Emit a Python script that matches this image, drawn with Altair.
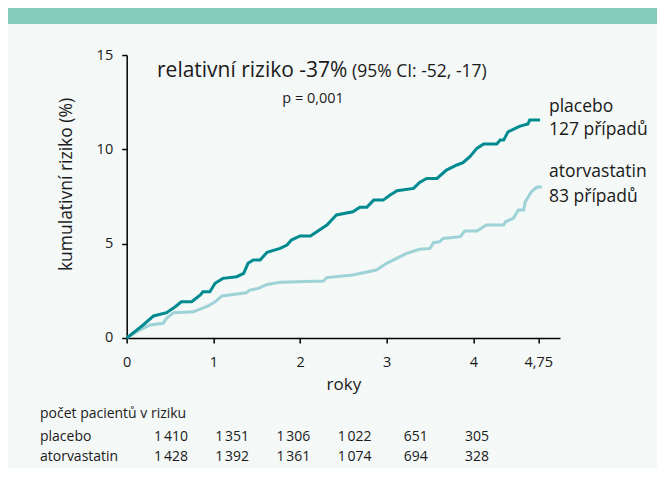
import altair as alt
import pandas as pd

# ---- data ----
placebo_t = [0, 0.115, 0.19, 0.31, 0.46, 0.56, 0.63, 0.75, 0.85, 0.88, 0.96, 1.02, 1.11, 1.27, 1.35,
             1.40, 1.46, 1.54, 1.62, 1.77, 1.85, 1.90, 2.0, 2.12, 2.31, 2.42, 2.61, 2.69, 2.77, 2.85,
             2.96, 3.04, 3.12, 3.31, 3.38, 3.46, 3.58, 3.69, 3.81, 3.88, 3.96, 4.04, 4.08, 4.12, 4.27,
             4.31, 4.35, 4.40, 4.46, 4.54, 4.63, 4.65, 4.77]
placebo_v = [0, 0.42, 0.69, 1.17, 1.34, 1.66, 1.92, 1.92, 2.28, 2.45, 2.45, 2.9, 3.16, 3.25, 3.43,
             3.96, 4.13, 4.13, 4.54, 4.75, 4.93, 5.19, 5.41, 5.41, 5.99, 6.52, 6.69, 6.93, 6.93, 7.31,
             7.31, 7.58, 7.81, 7.93, 8.25, 8.46, 8.46, 8.9, 9.17, 9.29, 9.61, 10.05, 10.17, 10.28, 10.28,
             10.49, 10.49, 10.93, 11.06, 11.23, 11.34, 11.55, 11.55]

atorva_t = [0, 0.15, 0.27, 0.42, 0.46, 0.54, 0.77, 0.94, 1.02, 1.10, 1.38, 1.42, 1.52, 1.62, 1.77,
            2.27, 2.31, 2.61, 2.88, 3.0, 3.23, 3.38, 3.50, 3.54, 3.61, 3.65, 3.85, 3.90, 4.04, 4.15,
            4.35, 4.37, 4.46, 4.52, 4.58, 4.60, 4.67, 4.73, 4.79]
atorva_v = [0, 0.42, 0.69, 0.78, 1.04, 1.34, 1.39, 1.7, 1.92, 2.23, 2.4, 2.54, 2.63, 2.84, 2.95,
            3.02, 3.2, 3.34, 3.6, 3.96, 4.49, 4.7, 4.75, 5.05, 5.1, 5.28, 5.37, 5.67, 5.67, 5.99,
            5.99, 6.16, 6.34, 6.78, 6.78, 7.22, 7.75, 7.99, 8.02]

x_ticks = [0, 1, 2, 3, 4, 4.75]
y_ticks = [0, 5, 10, 15]

table_rows = ["placebo", "atorvastatin"]
placebo_risk = ["1\u202f410", "1\u202f351", "1\u202f306", "1\u202f022", "651", "305"]
atorva_risk = ["1\u202f428", "1\u202f392", "1\u202f361", "1\u202f074", "694", "328"]

FONT = "Open Sans"
DARK = "#008B91"
LIGHT = "#9DD2D7"
TXT = "#1a1a1a"

W, H = 433.33, 283

df_p = pd.DataFrame({"t": placebo_t, "v": placebo_v})
df_a = pd.DataFrame({"t": atorva_t, "v": atorva_v})

xs = alt.Scale(domain=[0, 5], nice=False, zero=False)
ys = alt.Scale(domain=[0, 15], nice=False)

x_axis = alt.Axis(values=x_ticks, title="roky", grid=False, domainColor="black", domainWidth=1.5,
                  tickColor="black", tickWidth=1.5, tickSize=5, labelFontSize=14.5, labelFont=FONT,
                  labelColor=TXT, labelPadding=13,
                  labelExpr="replace(toString(datum.value), '.', ',')",
                  titleFont=FONT, titleFontSize=17, titleFontWeight="normal", titleColor=TXT,
                  titleY=38.5, titleBaseline="top", labelFlush=False)
y_axis = alt.Axis(values=y_ticks, title="kumulativní riziko (%)", grid=False, domainColor="black",
                  domainWidth=1.5, tickColor="black", tickWidth=1.5, tickSize=5, labelFontSize=14.5,
                  labelFont=FONT, labelColor=TXT, labelPadding=9, titleFont=FONT, titleFontSize=17.5,
                  titleFontWeight="normal", titleColor=TXT, titleX=-59.7, titleY=129,
                  titleBaseline="middle", titleAngle=270)

one = pd.DataFrame({"a": [0]})

banner = alt.Chart(one).mark_rect(color="#86CABC").encode(
    x=alt.value(-118.7), x2=alt.value(540), y=alt.value(-47), y2=alt.value(-31))

line_a = alt.Chart(df_a).mark_line(color=LIGHT, strokeWidth=3, clip=False).encode(
    x=alt.X("t:Q", scale=xs, axis=x_axis), y=alt.Y("v:Q", scale=ys, axis=y_axis))
line_p = alt.Chart(df_p).mark_line(color=DARK, strokeWidth=3, clip=False).encode(
    x=alt.X("t:Q", scale=xs), y=alt.Y("v:Q", scale=ys))

ann = pd.DataFrame({
    "t": [0.35, 2.60, 2.15],
    "v": [13.82, 13.82, 12.44],
    "txt": ["relativní riziko -37%", "(95% CI: -52, -17)", "p = 0,001"],
    "fs": [21, 17.5, 14.5],
    "al": ["left", "left", "center"],
})
ann_l = alt.Chart(ann[ann.al == "left"]).mark_text(font=FONT, color=TXT, align="left",
                                                 baseline="alphabetic").encode(
    x=alt.X("t:Q", scale=xs), y=alt.Y("v:Q", scale=ys), text="txt:N",
    size=alt.Size("fs:Q", scale=None, legend=None))
ann_c = alt.Chart(ann[ann.al == "center"]).mark_text(font=FONT, color=TXT, align="center",
                                                   baseline="alphabetic").encode(
    x=alt.X("t:Q", scale=xs), y=alt.Y("v:Q", scale=ys), text="txt:N",
    size=alt.Size("fs:Q", scale=None, legend=None))

end_lab = pd.DataFrame({
    "t": [4.873, 4.873, 4.873, 4.873],
    "v": [11.99, 10.76, 8.52, 7.22],
    "txt": ["placebo", "127 případů", "atorvastatin", "83 případů"],
})
end_l = alt.Chart(end_lab).mark_text(font=FONT, color=TXT, align="left", baseline="alphabetic",
                                     fontSize=17.5).encode(
    x=alt.X("t:Q", scale=xs), y=alt.Y("v:Q", scale=ys), text="txt:N")

main = alt.layer(banner, line_a, line_p, ann_l, ann_c, end_l)

# ---- table of patients at risk ----
rows = []
for ri, (name, vals) in enumerate(zip(table_rows, [placebo_risk, atorva_risk])):
    for ci, val in enumerate(vals):
        rows.append({"ri": ri, "ci": ci, "txt": val})
tdf = pd.DataFrame(rows)
ldf = pd.DataFrame({"ri": [0, 1], "txt": table_rows})

tx = alt.Scale(domain=[0, 5], range=[44.3, 350.3])
ty = alt.Scale(domain=[0, 1], range=[381.7, 402])

cells = alt.Chart(tdf).mark_text(font=FONT, color=TXT, fontSize=14, align="center",
                                 baseline="middle").encode(
    x=alt.X("ci:Q", scale=tx, axis=None), y=alt.Y("ri:Q", scale=ty, axis=None), text="txt:N")
rowlab = alt.Chart(ldf).mark_text(font=FONT, color=TXT, fontSize=14, align="left",
                                  baseline="middle").encode(
    x=alt.value(-86.7), y=alt.Y("ri:Q", scale=ty, axis=None), text="txt:N")
header = alt.Chart(pd.DataFrame({"txt": ["počet pacientů v riziku"]})).mark_text(
    font=FONT, color=TXT, fontSize=14, align="left", baseline="middle").encode(
    x=alt.value(-86.7), y=alt.value(359), text="txt:N")

table = alt.layer(cells, rowlab, header)

chart = alt.layer(main, table).resolve_scale(x="independent", y="independent").properties(
    width=W, height=H,
    autosize=alt.AutoSizeParams(type="none"),
    padding={"left": 118.7, "top": 47, "right": 97, "bottom": 130},
    background="#F4F8F7",
).configure_view(stroke=None)

chart.save("out.html", embed_options={"renderer": "svg", "actions": False})
